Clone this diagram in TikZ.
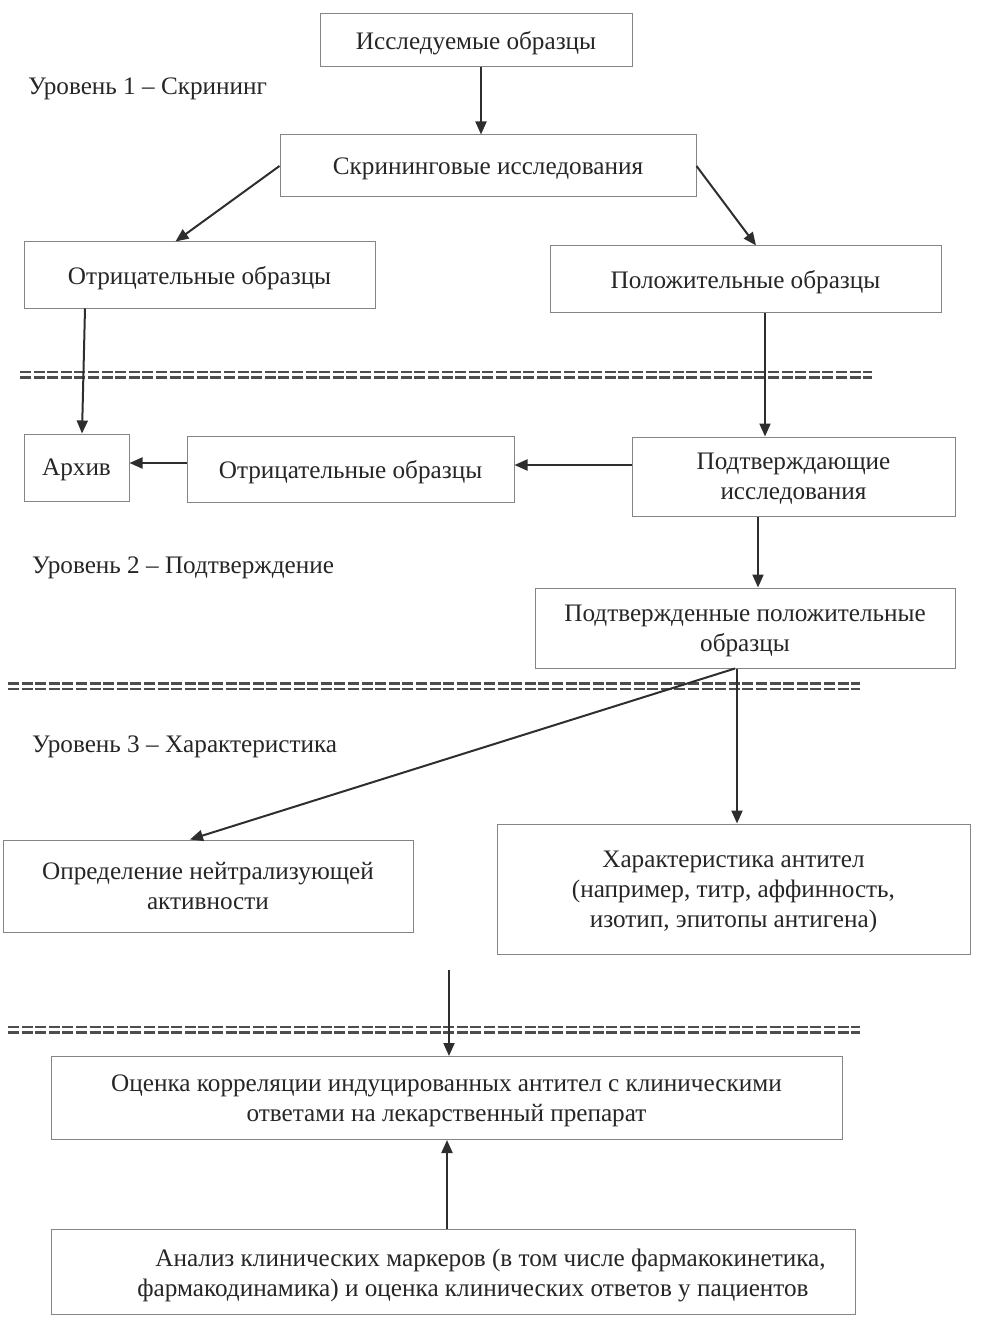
\documentclass[tikz,border=0pt]{standalone}
\usepackage{fontspec}
\setmainfont{Liberation Serif}
\usetikzlibrary{arrows.meta}
\definecolor{txt}{HTML}{262626}
\definecolor{brd}{HTML}{858585}
\definecolor{arr}{HTML}{2E2E2E}
\begin{document}
\begin{tikzpicture}[x=1pt,y=-1pt,
  box/.style={draw=brd, line width=1pt, inner sep=0pt, align=center, text=txt, text depth=0pt,
    font=\fontsize{25.2}{30}\selectfont},
  lbl/.style={anchor=west, inner sep=0pt, text=txt, font=\fontsize{25.2}{30}\selectfont},
  conn/.style={draw=arr, line width=2pt, -{Triangle[length=13pt,width=11pt]}},
  sep/.style={draw=arr!85, line width=2.2pt, dash pattern=on 11pt off 2.6pt}]
\useasboundingbox (0,0) rectangle (984,1332);

\node[box, minimum width=312, minimum height=53] (src) at (476,40.5) {Исследуемые образцы};
\node[lbl] (l1) at (28,89) {Уровень 1 – Скрининг};
\node[box, minimum width=416, minimum height=62] (scr) at (488,166) {Скрининговые исследования};
\node[box, minimum width=351, minimum height=66] (neg1) at (199.5,275) {Отрицательные образцы};
\node[box, minimum width=391, minimum height=66] (pos1) at (745.5,279) {Положительные образцы};

\node[box, minimum width=105, minimum height=67] (arch) at (76.5,467.5) {Архив};
\node[box, minimum width=327, minimum height=66] (neg2) at (350.5,469) {Отрицательные образцы};
\node[box, minimum width=323, minimum height=79] (conf) at (793.5,476.5) {Подтверждающие\\исследования};
\node[lbl] (l2) at (32,568) {Уровень 2 – Подтверждение};
\node[box, minimum width=420, minimum height=80] (cpos) at (745,628) {Подтвержденные положительные\\образцы};

\node[lbl] (l3) at (32,747) {Уровень 3 – Характеристика};
\node[box, minimum width=410, minimum height=92] (neut) at (208,886) {Определение нейтрализующей\\активности};
\node[box, minimum width=473, minimum height=130] (char) at (733.5,889) {Характеристика антител\\(например, титр, аффинность,\\изотип, эпитопы антигена)};

\node[box, minimum width=791, minimum height=83] (eval) at (446.5,1098) {Оценка корреляции индуцированных антител с клиническими\\ответами на лекарственный препарат};
\node[box, minimum width=804, minimum height=85] (anal) at (453,1271.5) {};
\node[lbl, anchor=center, align=center, text depth=0pt] (analt) at (473,1273) {\hspace*{35pt}Анализ клинических маркеров (в том числе фармакокинетика,\\фармакодинамика) и оценка клинических ответов у пациентов};
\coordinate (c0) at (449,970);
\coordinate (cw) at ([yshift=11.5]conf.west);
\coordinate (nw) at ([yshift=6]neg2.west);

% separators
\draw[sep] (20,372) -- (872,372);
\draw[sep] (20,377.5) -- (872,377.5);
\draw[sep] (8,683.5) -- (860,683.5);
\draw[sep] (8,689) -- (860,689);
\draw[sep] (8,1027) -- (860,1027);
\draw[sep] (8,1032.5) -- (860,1032.5);

% connectors
\draw[conn] ([xshift=5]src.south) -- ([xshift=5]src.south |- scr.north);
\draw[conn] (scr.west) -- ([xshift=-24]neg1.north);
\draw[conn] (scr.east) -- ([xshift=10.5]pos1.north);
\draw[conn] ([xshift=-114.5]neg1.south) -- ([xshift=-117.5]neg1.south |- arch.north);
\draw[conn] ([xshift=19.5]pos1.south) -- ([xshift=19.5]pos1.south |- conf.north);
\draw[conn] (cw) -- (neg2.east |- cw);
\draw[conn] (nw) -- (arch.east |- nw);
\draw[conn] ([xshift=-35.5]conf.south) -- ([xshift=-35.5]conf.south |- cpos.north);
\draw[conn] ([xshift=-10]cpos.south) -- ([xshift=-18]neut.north);
\draw[conn] ([xshift=-8]cpos.south) -- ([xshift=-8]cpos.south |- char.north);
\draw[conn] (c0) -- (c0 |- eval.north);
\draw[conn] ([xshift=-6]anal.north) -- ([xshift=-6]anal.north |- eval.south);
\end{tikzpicture}
\end{document}
